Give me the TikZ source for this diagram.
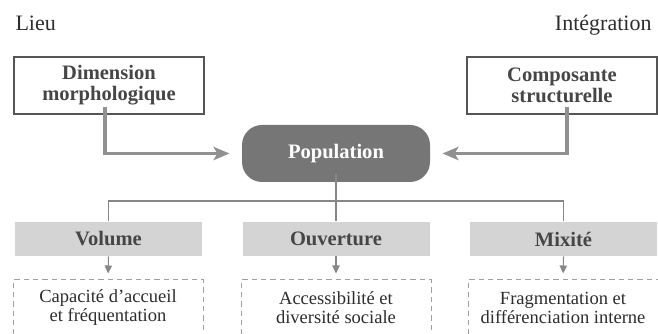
\documentclass[tikz,border=0pt]{standalone}
\usepackage{fontspec}
\setmainfont{Liberation Serif}
\usetikzlibrary{arrows.meta}

\definecolor{boxline}{RGB}{85,85,85}
\definecolor{popfill}{RGB}{118,118,118}
\definecolor{arrowgray}{RGB}{145,145,145}
\definecolor{barfill}{RGB}{212,212,212}
\definecolor{treegray}{RGB}{135,135,135}
\definecolor{dashgray}{RGB}{160,160,160}
\definecolor{txtdark}{RGB}{70,70,70}
\definecolor{txtreg}{RGB}{45,45,45}

\tikzset{every picture/.style={line width=0.75pt}}
\tikzset{
  topbox/.style={draw=boxline, line width=1pt, fill=white, minimum width=142.5pt, minimum height=42.75pt,
    align=center, inner sep=0pt, text=txtdark, font=\fontsize{15.4}{15.75}\selectfont\bfseries},
  popbox/.style={fill=popfill, rounded corners=15pt, minimum width=141pt, minimum height=42.75pt,
    inner sep=0pt, text=white, font=\fontsize{15.4}{15.75}\selectfont\bfseries},
  barbox/.style={fill=barfill, minimum width=140.25pt, minimum height=25.5pt, inner sep=0pt,
    text=txtdark, font=\fontsize{15.4}{15.75}\selectfont\bfseries},
  dashbox/.style={draw=dashgray, dashed, dash pattern=on 4pt off 3pt, minimum width=142.5pt, minimum height=42pt,
    align=center, inner sep=0pt, text=txtreg, font=\fontsize{13.9}{14.25}\selectfont},
  sidelabel/.style={inner sep=0pt, text=txtreg, font=\fontsize{16.5}{18}\selectfont},
  bigarrow/.style={draw=arrowgray, line width=2.5pt, -{Stealth[length=12pt,width=10pt,inset=3pt]}},
  tree/.style={draw=treegray, line width=0.8pt},
  smallarrow/.style={draw=treegray, line width=0.8pt, -{Triangle[length=6pt,width=5.5pt]}}
}

\begin{document}
\begin{tikzpicture}[x=0.75pt,y=0.75pt,yscale=-1,xscale=1]
	%frame of the picture
	\path[use as bounding box] (0,0) rectangle (658,334);
	\clip (0,0) rectangle (658,334);
	
	%side labels
	\node[sidelabel, anchor=base west] (lieu) at (15,31) {Lieu};
	\node[sidelabel, anchor=base east] (integ) at (652,31) {Intégration};
	
	%Shape: Rectangle
	\node[topbox] (dim) at (109,85.5) {Dimension\\morphologique};
	\node[topbox] (comp) at (562,85.5) {Composante\\structurelle};
	
	%Shape: Rounded Rect
	\node[popbox] (pop) at (336,153.5) {Population};
	
	%Shape: gray bars
	\node[barbox] (vol) at (108.5,239) {Volume};
	\node[barbox] (ouv) at (336,239) {Ouverture};
	\node[barbox] (mix) at (563.5,239) {Mixité};
	
	%Shape: dashed boxes
	\node[dashbox] (cap) at (108,308) {Capacité d'accueil\\et fréquentation};
	\node[dashbox] (acc) at (336,308) {Accessibilité et\\diversité sociale};
	\node[dashbox] (frag) at (563,308) {Fragmentation et\\différenciation interne};
	
	%big arrows
	\draw[bigarrow] ([xshift=-3pt,yshift=-6pt]dim.south) |- ([xshift=-9pt]pop.west);
	\draw[bigarrow] ([xshift=3.75pt,yshift=-6pt]comp.south) |- ([xshift=9pt]pop.east);
	
	%tree
	\coordinate (split) at (336,201);
	\draw[tree] ([yshift=-6pt]pop.south) -- (split);
	\draw[tree] (vol.north) |- (split) -| (mix.north);
	\draw[tree] (split) -- (ouv.north);
	
	%small arrows
	\draw[smallarrow, shorten >=4.5pt] (vol.south) -- (cap.north);
	\draw[smallarrow, shorten >=4.5pt] (ouv.south) -- (acc.north);
	\draw[smallarrow, shorten >=4.5pt] (mix.south) -- (frag.north);
	
\end{tikzpicture}
\end{document}
